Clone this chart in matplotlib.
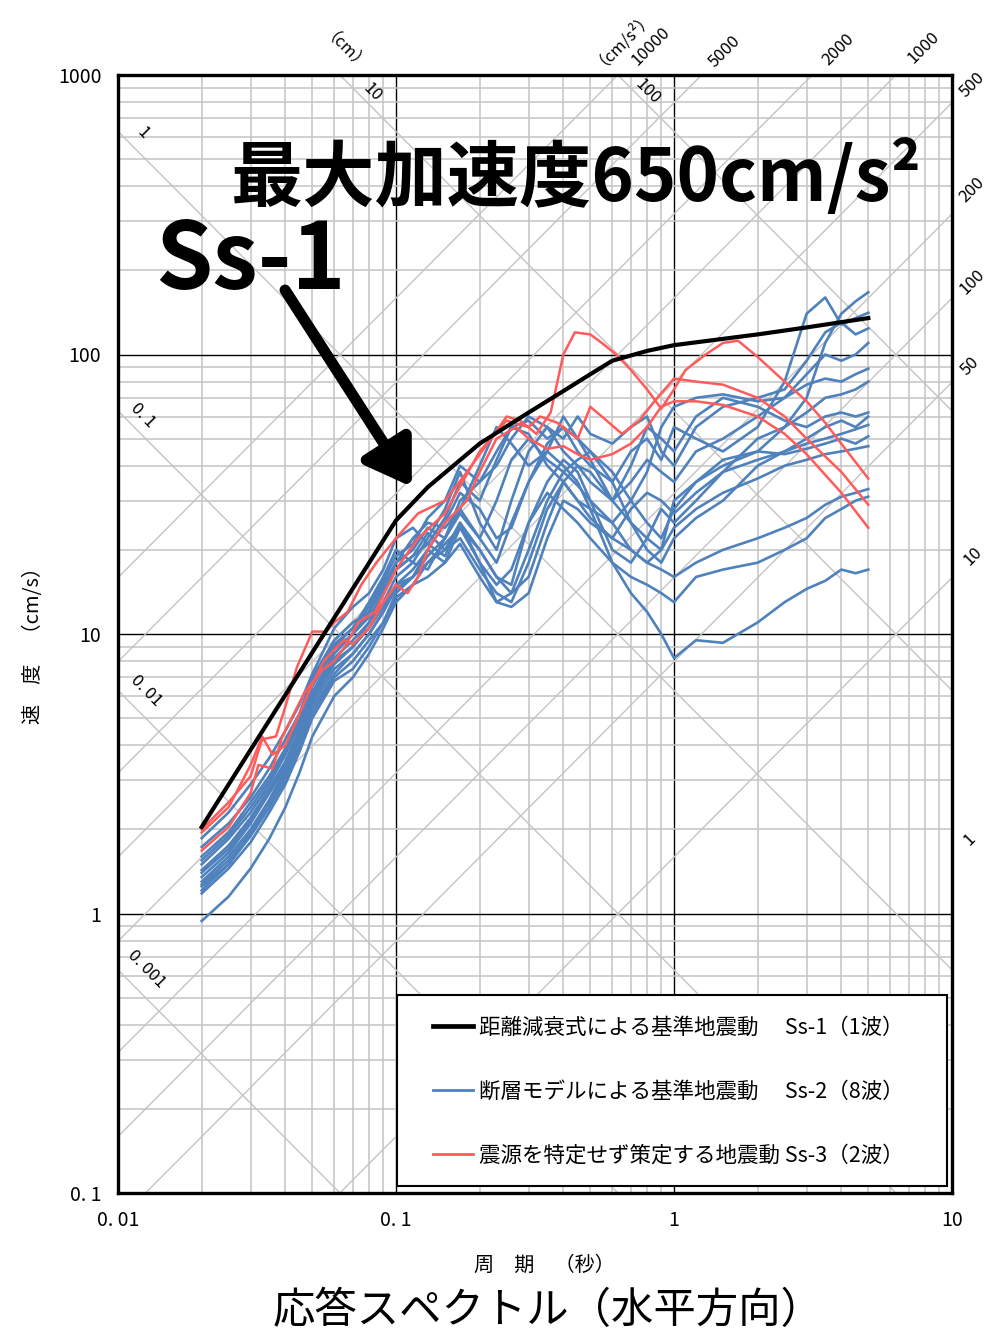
import matplotlib
matplotlib.use('Agg')
import matplotlib.pyplot as plt
from matplotlib.ticker import LogLocator, NullFormatter
from matplotlib.patches import Rectangle
import numpy as np

plt.rcParams['font.family'] = ['Noto Sans CJK JP', 'DejaVu Sans']

# ---- data (period [s], velocity [cm/s]) ----
ss1_T = [0.02, 0.1, 0.13, 0.2, 0.3, 0.4, 0.5, 0.6, 0.8, 1.0, 2.0, 3.0, 5.0]
ss1_V = [2.04, 25.5, 33.5, 48, 62, 74, 85, 95, 103, 108, 118, 125, 135]

# Ss-2 : fault model waves, all on one period grid
ss2_T = [0.02, 0.025, 0.03, 0.035, 0.04, 0.045, 0.05, 0.06, 0.07, 0.08,
         0.09, 0.1, 0.115, 0.13, 0.15, 0.17, 0.2, 0.23, 0.26, 0.3,
         0.35, 0.4, 0.45, 0.5, 0.6, 0.7, 0.8, 0.9, 1.0, 1.2,
         1.5, 2.0, 2.5, 3.0, 3.5, 4.0, 4.5, 5.0]
ss2_V = [
    [1.86, 2.3, 2.9, 3.6, 4.5, 5.6, 7.2, 10.5, 12.5, 14.0,
     17.0, 22.0, 24.0, 21.0, 26.0, 35.0, 30.0, 42.0, 55.0, 58.0,
     50.0, 55.0, 45.0, 40.0, 35.0, 45.0, 50.0, 42.0, 55.0, 50.0,
     45.0, 55.0, 80.0, 140.0, 160.0, 128.0, 135.0, 141.0],
    [1.73, 2.1, 2.6, 3.3, 4.2, 5.2, 7.0, 9.5, 11.0, 12.0,
     15.0, 18.0, 20.0, 24.0, 22.0, 28.0, 40.0, 55.0, 48.0, 40.0,
     45.0, 60.0, 50.0, 42.0, 30.0, 25.0, 22.0, 20.0, 30.0, 35.0,
     40.0, 45.0, 55.0, 70.0, 110.0, 140.0, 155.0, 167.0],
    [1.55, 1.9, 2.4, 3.0, 3.8, 5.0, 6.8, 9.0, 10.5, 13.0,
     16.0, 20.0, 18.0, 22.0, 28.0, 38.0, 25.0, 20.0, 30.0, 45.0,
     55.0, 50.0, 60.0, 52.0, 48.0, 55.0, 60.0, 45.0, 40.0, 55.0,
     65.0, 70.0, 75.0, 95.0, 120.0, 130.0, 118.0, 124.0],
    [1.43, 1.75, 2.2, 2.8, 3.5, 4.6, 6.2, 8.5, 10.0, 11.5,
     14.0, 17.0, 19.0, 23.0, 20.0, 22.0, 17.0, 14.0, 13.0, 18.0,
     28.0, 35.0, 40.0, 38.0, 30.0, 35.0, 42.0, 38.0, 35.0, 45.0,
     50.0, 60.0, 70.0, 85.0, 100.0, 95.0, 100.0, 110.0],
    [1.35, 1.65, 2.1, 2.7, 3.4, 4.4, 6.0, 8.0, 9.0, 11.0,
     13.0, 16.0, 18.0, 17.0, 22.0, 30.0, 35.0, 45.0, 55.0, 52.0,
     40.0, 35.0, 30.0, 28.0, 25.0, 30.0, 38.0, 55.0, 65.0, 70.0,
     72.0, 68.0, 70.0, 78.0, 82.0, 80.0, 85.0, 89.0],
    [1.27, 1.55, 1.95, 2.5, 3.2, 4.2, 5.6, 7.5, 8.5, 10.0,
     12.0, 15.0, 17.0, 20.0, 18.0, 24.0, 20.0, 16.0, 15.0, 25.0,
     35.0, 42.0, 38.0, 30.0, 20.0, 18.0, 22.0, 28.0, 25.0, 30.0,
     38.0, 50.0, 55.0, 62.0, 70.0, 72.0, 75.0, 80.0],
    [1.21, 1.5, 1.9, 2.4, 3.0, 3.9, 5.2, 7.0, 8.0, 9.5,
     11.0, 14.0, 16.0, 19.0, 22.0, 27.0, 22.0, 18.0, 25.0, 35.0,
     48.0, 55.0, 50.0, 45.0, 35.0, 25.0, 20.0, 18.0, 22.0, 26.0,
     30.0, 40.0, 45.0, 50.0, 55.0, 58.0, 55.0, 60.0],
    [1.18, 1.45, 1.8, 2.3, 2.9, 3.8, 5.0, 6.8, 7.5, 9.0,
     11.0, 13.5, 15.0, 18.0, 20.0, 25.0, 18.0, 13.0, 12.5, 14.0,
     22.0, 30.0, 28.0, 25.0, 22.0, 28.0, 32.0, 30.0, 27.0, 32.0,
     38.0, 42.0, 45.0, 48.0, 50.0, 52.0, 54.0, 56.0],
    [0.94, 1.15, 1.45, 1.85, 2.4, 3.2, 4.3, 6.0, 7.0, 8.5,
     10.5, 13.0, 15.0, 16.0, 18.0, 21.0, 16.0, 13.0, 14.0, 20.0,
     30.0, 38.0, 42.0, 45.0, 38.0, 30.0, 25.0, 22.0, 28.0, 35.0,
     42.0, 45.0, 44.0, 46.0, 48.0, 50.0, 48.0, 51.0],
    [1.4, 1.7, 2.15, 2.7, 3.4, 4.5, 6.1, 8.2, 9.5, 11.0,
     14.0, 18.0, 22.0, 25.0, 24.0, 28.0, 22.0, 30.0, 42.0, 50.0,
     42.0, 38.0, 34.0, 30.0, 25.0, 20.0, 18.0, 17.0, 16.0, 18.0,
     20.0, 22.0, 24.0, 26.0, 29.0, 31.0, 32.0, 33.0],
    [1.3, 1.6, 2.0, 2.55, 3.3, 4.3, 5.8, 7.8, 9.0, 10.5,
     12.5, 15.0, 16.0, 18.0, 21.0, 24.0, 18.0, 15.0, 17.0, 25.0,
     32.0, 28.0, 25.0, 22.0, 18.0, 16.0, 15.0, 14.0, 13.0, 16.0,
     17.0, 18.0, 20.0, 22.0, 26.0, 28.0, 30.0, 31.0],
    [1.25, 1.5, 1.9, 2.4, 3.1, 4.0, 5.4, 7.2, 8.5, 10.0,
     12.0, 14.5, 16.0, 20.0, 25.0, 32.0, 28.0, 22.0, 24.0, 35.0,
     45.0, 40.0, 35.0, 28.0, 18.0, 14.0, 12.0, 10.0, 8.2, 9.5,
     9.3, 11.0, 13.0, 14.5, 15.5, 17.0, 16.5, 17.0],
    [1.6, 1.95, 2.5, 3.1, 3.9, 5.1, 6.9, 9.2, 10.5, 12.5,
     15.5, 19.0, 21.0, 26.0, 30.0, 40.0, 35.0, 40.0, 50.0, 60.0,
     55.0, 45.0, 40.0, 35.0, 30.0, 40.0, 55.0, 50.0, 45.0, 60.0,
     70.0, 65.0, 58.0, 55.0, 60.0, 62.0, 60.0, 62.0],
    [1.5, 1.85, 2.3, 2.9, 3.7, 4.8, 6.5, 8.8, 10.0, 12.0,
     14.5, 17.0, 19.0, 21.0, 19.0, 25.0, 20.0, 16.0, 14.0, 16.0,
     25.0, 35.0, 30.0, 26.0, 22.0, 20.0, 18.0, 20.0, 24.0, 28.0,
     32.0, 36.0, 40.0, 42.0, 44.0, 45.0, 46.0, 47.0],
]

# Ss-3 : waves without specified source
ss3_T1 = [0.02, 0.025, 0.03, 0.033, 0.037, 0.04, 0.044, 0.05, 0.056, 0.06,
          0.067, 0.075, 0.085, 0.1, 0.12, 0.15, 0.18, 0.22, 0.25, 0.28,
          0.32, 0.36, 0.4, 0.44, 0.5, 0.55, 0.62, 0.7, 0.8, 0.9,
          1.0, 1.1, 1.3, 1.5, 1.7, 2.0, 2.5, 3.0, 3.5, 4.2, 5.0]
ss3_V1 = [2.0, 2.5, 3.1, 4.2, 4.3, 5.5, 7.6, 10.2, 10.2, 11,
          12, 15, 18, 22, 27, 30, 38, 50, 60, 58,
          52, 62, 100, 120, 118, 110, 100, 88, 75, 64,
          75, 88, 100, 110, 112, 98, 80, 68, 57, 45, 36]
ss3_T2 = [0.02, 0.025, 0.03, 0.032, 0.036, 0.039, 0.047, 0.054, 0.06, 0.066,
          0.073, 0.084, 0.1, 0.12, 0.15, 0.2, 0.25, 0.3, 0.33, 0.38,
          0.45, 0.5, 0.55, 0.65, 0.75, 0.85, 1.0, 1.2, 1.5, 2.0,
          2.5, 3.0, 4.0, 5.0]
ss3_V2 = [1.68, 2.04, 2.7, 3.4, 3.3, 4.3, 6.2, 7.4, 8.0, 9.1,
          11, 12, 17, 22, 27, 45, 58, 55, 60, 57,
          50, 65, 60, 52, 58, 68, 82, 80, 78, 70,
          60, 50, 38, 29]
ss3_T3 = [0.02, 0.025, 0.03, 0.033, 0.036, 0.04, 0.045, 0.05, 0.055, 0.06,
          0.065, 0.07, 0.08, 0.09, 0.1, 0.11, 0.12, 0.13, 0.15, 0.18,
          0.2, 0.23, 0.27, 0.3, 0.35, 0.4, 0.45, 0.5, 0.6, 0.7,
          0.8, 0.9, 1.0, 1.2, 1.5, 2.0, 2.5, 3.0, 4.0, 5.0]
ss3_V3 = [1.95, 2.4, 3.4, 4.3, 3.7, 4.0, 5.2, 6.6, 8.0, 8.8,
          9.5, 9.2, 10.5, 13, 15, 14, 16, 20, 25, 30,
          38, 50, 55, 50, 46, 47, 44, 42, 44, 48,
          55, 65, 68, 68, 66, 60, 52, 44, 32, 24]

# tripartite guide values
disp_cm = [0.001, 0.01, 0.1, 1, 10, 100]
acc_gal = [10, 50, 100, 200, 500, 1000, 2000, 5000, 10000]

x_ticks = [0.01, 0.1, 1, 10]
x_ticklabels = ['0. 01', '0. 1', '1', '10']
y_ticks = [0.1, 1, 10, 100, 1000]
y_ticklabels = ['0. 1', '1', '10', '100', '1000']

legend_labels = ['距離減衰式による基準地震動\u3000 Ss-1（1波）',
                 '断層モデルによる基準地震動\u3000 Ss-2（8波）',
                 '震源を特定せず策定する地震動 Ss-3（2波）']

BLUE = '#4f81bd'
RED = '#ff5b5b'
W, H = 993, 1334
AX_L, AX_R, AX_T, AX_B = 118, 952, 75, 1193


def fp(x, y):
    # figure pixel -> figure fraction
    return x / W, 1 - y / H


def ap(x, y):
    # figure pixel -> axes fraction
    return (x - AX_L) / (AX_R - AX_L), (AX_B - y) / (AX_B - AX_T)


fig = plt.figure(figsize=(W / 100, H / 100), dpi=100)
ax = fig.add_axes([AX_L / W, (H - AX_B) / H, (AX_R - AX_L) / W, (AX_B - AX_T) / H])
ax.set_xscale('log')
ax.set_yscale('log')
ax.set_xlim(0.01, 10)
ax.set_ylim(0.1, 1000)

ax.xaxis.set_minor_locator(LogLocator(base=10, subs=np.arange(2, 10)))
ax.yaxis.set_minor_locator(LogLocator(base=10, subs=np.arange(2, 10)))
ax.xaxis.set_minor_formatter(NullFormatter())
ax.yaxis.set_minor_formatter(NullFormatter())
ax.grid(which='minor', color='#c4c4c4', lw=1.1, zorder=0)
ax.grid(which='major', color='black', lw=1.0, zorder=0.5)
ax.set_axisbelow(True)

# diagonal guide lines
tt = np.array([0.01, 10.0])
for d in disp_cm:
    ax.plot(tt, 2 * np.pi * d / tt, color='#c4c4c4', lw=1.0, zorder=0.6)
for a in acc_gal:
    ax.plot(tt, a * tt / (2 * np.pi), color='#c4c4c4', lw=1.0, zorder=0.6)

ax.set_xticks(x_ticks)
ax.set_xticklabels(x_ticklabels, fontsize=14)
ax.set_yticks(y_ticks)
ax.set_yticklabels(y_ticklabels, fontsize=14)
ax.tick_params(which='both', length=0)
ax.tick_params(axis='x', pad=12)
ax.tick_params(axis='y', pad=12)
for s in ax.spines.values():
    s.set_linewidth(2.4)
    s.set_zorder(5)

# spectra
for v in ss2_V:
    ax.plot(ss2_T, v, color=BLUE, lw=1.9, zorder=2)
ax.plot(ss3_T1, ss3_V1, color=RED, lw=1.8, zorder=3)
ax.plot(ss3_T2, ss3_V2, color=RED, lw=1.8, zorder=3)
ax.plot(ss3_T3, ss3_V3, color=RED, lw=1.8, zorder=3)
ax.plot(ss1_T, ss1_V, color='black', lw=3.0, zorder=4)

# legend: box drawn separately, entries placed inside it
bx0, by0 = ap(397, 1186)
bx1, by1 = ap(947, 995)
ax.add_patch(Rectangle((bx0, by0), bx1 - bx0, by1 - by0, transform=ax.transAxes,
                       facecolor='white', edgecolor='black', lw=1.5, zorder=9))
h1, = ax.plot([], [], color='black', lw=3.4)
h2, = ax.plot([], [], color=BLUE, lw=2.0)
h3, = ax.plot([], [], color=RED, lw=2.0)
leg = ax.legend([h1, h2, h3], legend_labels, loc='upper left',
                bbox_to_anchor=ap(433, 1017), fontsize=15.5,
                frameon=False, borderpad=0, labelspacing=1.95,
                handlelength=1.85, handletextpad=0.3, borderaxespad=0)
leg.set_zorder(10)

# axis titles
fig.text(*fp(34, 640), '速\u3000度\u3000（cm/s）', rotation=90,
         ha='center', va='center', fontsize=14.5)
fig.text(*fp(544, 1265), '周\u3000期\u3000（秒）', ha='center',
         va='center', fontsize=14.5)
fig.text(*fp(548, 1311), '応答スペクトル（水平方向）', ha='center',
         va='center', fontsize=30.5)

# tripartite labels: displacement (cm)
dl = dict(ha='center', va='center', rotation=-45, rotation_mode='anchor', fontsize=12)
fig.text(*fp(342, 55), '（cm）', **dl)
fig.text(*fp(372, 92), '10', **dl)
fig.text(*fp(648, 92), '100', **dl)
fig.text(*fp(143, 133), '1', **dl)
fig.text(*fp(143, 415), '0. 1', **dl)
fig.text(*fp(146, 691), '0. 01', **dl)
fig.text(*fp(146, 969), '0. 001', **dl)

# acceleration (cm/s2)
al = dict(ha='center', va='center', rotation=45, rotation_mode='anchor', fontsize=12)
fig.text(*fp(620, 35), '（cm/s²）', **al)
fig.text(*fp(651, 46), '10000', **al)
fig.text(*fp(725, 52), '5000', **al)
fig.text(*fp(838, 50), '2000', **al)
fig.text(*fp(924, 48), '1000', **al)
fig.text(*fp(972, 85), '500', **al)
fig.text(*fp(972, 190), '200', **al)
fig.text(*fp(972, 282), '100', **al)
fig.text(*fp(970, 366), '50', **al)
fig.text(*fp(973, 556), '10', **al)
fig.text(*fp(970, 840), '1', **al)

# annotations
fig.text(*fp(576, 178), '最大加速度650cm/s²', ha='center', va='center',
         fontsize=52, fontweight='bold', zorder=20)
fig.text(*fp(250, 262), 'Ss-1', ha='center', va='center',
         fontsize=66, fontweight='bold', zorder=20)
ax.annotate('', xy=(0.114, 33.6), xytext=(0.0399, 170),
            arrowprops=dict(arrowstyle='-|>,head_length=0.7,head_width=0.45',
                            mutation_scale=38, lw=8, color='black',
                            shrinkA=0, shrinkB=0),
            zorder=20)

fig.savefig('out.png', dpi=100)
